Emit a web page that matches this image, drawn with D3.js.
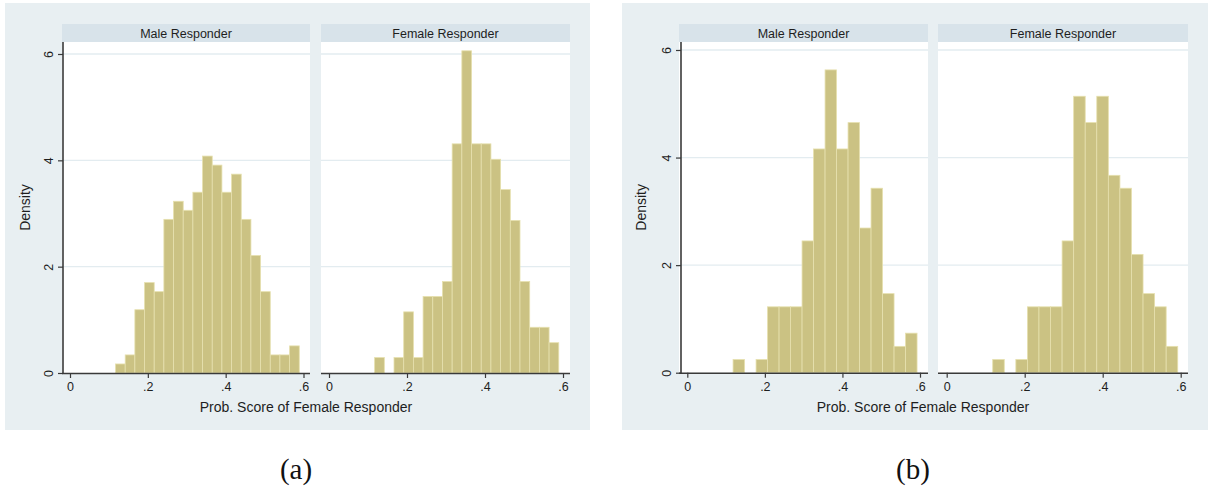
<!DOCTYPE html>
<html>
<head>
<meta charset="utf-8">
<script src="https://cdn.jsdelivr.net/npm/d3@7"></script>
<style>
  html, body { margin: 0; padding: 0; background: #ffffff; }
  svg { display: block; }
</style>
</head>
<body>
<svg id="chart" width="1212" height="496"></svg>
<script>
// ---------------- DATA ----------------
const facets = ["Male Responder", "Female Responder"];
const xTicks = [0, 0.2, 0.4, 0.6];
const xTickLabels = ["0", ".2", ".4", ".6"];
const yTicks = [0, 2, 4, 6];
const yTickLabels = ["0", "2", "4", "6"];
const xTitle = "Prob. Score of Female Responder";
const yTitle = "Density";
const captions = ["(a)", "(b)"];

// Panel (a): 19 bins
const binStartA = 0.1170;
const binWidthA = 0.02485;
const maleDensityA   = [0.17, 0.34, 1.19, 1.70, 1.53, 2.89, 3.23, 3.06, 3.40, 4.08, 3.91, 3.40, 3.74, 2.89, 2.21, 1.53, 0.34, 0.34, 0.51];
const femaleDensityA = [0.29, 0, 0.29, 1.15, 0.29, 1.44, 1.44, 1.72, 4.31, 6.06, 4.31, 4.31, 4.02, 3.45, 2.87, 1.72, 0.86, 0.86, 0.57];

// Panel (b): 16 bins
const binStartB = 0.1180;
const binWidthB = 0.02965;
const maleDensityB   = [0.245, 0, 0.245, 1.225, 1.225, 1.225, 2.45, 4.16, 5.63, 4.16, 4.65, 2.69, 3.43, 1.47, 0.49, 0.735];
const femaleDensityB = [0.245, 0, 0.245, 1.225, 1.225, 1.225, 2.45, 5.14, 4.65, 5.14, 3.67, 3.43, 2.20, 1.47, 1.225, 0.49];

// ---------------- LAYOUT / STYLE ----------------
const COL = {
  region: "#e8eff2",
  strip: "#d8e3ea",
  grid: "#e3ecf0",
  bar: "#cbc283",
  barStroke: "#e6e0ae",
  axis: "#3a3a3a",
  text: "#1e1e1e"
};
const FONT = "'Liberation Sans', Arial, sans-serif";

const panels = [
  {
    bg: [5, 3, 590, 430],
    y0: 373, y6: 54, plotTop: 42, stripTop: 24,
    facetsPos: [
      { left: 62, right: 310, x0: 70, x6: 303.5 },
      { left: 321, right: 570, x0: 329, x6: 563 }
    ],
    yAxisX: 63, yLabelX: 49, yTitleX: 30, xTitleX: 306, xTitleY: 412,
    binStart: binStartA, binWidth: binWidthA,
    data: [maleDensityA, femaleDensityA],
    caption: captions[0], captionX: 296
  },
  {
    bg: [622, 3, 1208, 430],
    y0: 372.7, y6: 50, plotTop: 42, stripTop: 24,
    facetsPos: [
      { left: 679, right: 928, x0: 687.3, x6: 920 },
      { left: 938, right: 1188, x0: 946.7, x6: 1180.7 }
    ],
    yAxisX: 681, yLabelX: 667, yTitleX: 646, xTitleX: 923, xTitleY: 412,
    binStart: binStartB, binWidth: binWidthB,
    data: [maleDensityB, femaleDensityB],
    caption: captions[1], captionX: 913
  }
];

const svg = d3.select("#chart");

panels.forEach(p => {
  const g = svg.append("g");
  g.append("rect")
    .attr("x", p.bg[0]).attr("y", p.bg[1])
    .attr("width", p.bg[2] - p.bg[0]).attr("height", p.bg[3] - p.bg[1])
    .attr("fill", COL.region);

  const y = d3.scaleLinear().domain([0, 6]).range([p.y0, p.y6]);

  p.facetsPos.forEach((f, i) => {
    const x = d3.scaleLinear().domain([0, 0.6]).range([f.x0, f.x6]);
    const fg = g.append("g");

    // strip
    fg.append("rect")
      .attr("x", f.left).attr("y", p.stripTop)
      .attr("width", f.right - f.left).attr("height", p.plotTop - p.stripTop)
      .attr("fill", COL.strip);
    fg.append("text")
      .attr("x", (f.left + f.right) / 2).attr("y", (p.stripTop + p.plotTop) / 2 + 4.5)
      .attr("text-anchor", "middle")
      .attr("font-family", FONT).attr("font-size", 12.5)
      .attr("fill", COL.text)
      .text(facets[i]);

    // plot area
    fg.append("rect")
      .attr("x", f.left).attr("y", p.plotTop)
      .attr("width", f.right - f.left).attr("height", y(0) - p.plotTop)
      .attr("fill", "#ffffff");

    // gridlines
    fg.selectAll("line.grid")
      .data(yTicks.filter(t => t > 0))
      .join("line")
      .attr("class", "grid")
      .attr("x1", f.left).attr("x2", f.right)
      .attr("y1", d => y(d)).attr("y2", d => y(d))
      .attr("stroke", COL.grid).attr("stroke-width", 1.3);

    // bars
    const bins = p.data[i].map((v, k) => ({
      x0: p.binStart + k * p.binWidth,
      x1: p.binStart + (k + 1) * p.binWidth,
      v: v
    })).filter(b => b.v > 0);
    fg.selectAll("rect.bar")
      .data(bins)
      .join("rect")
      .attr("class", "bar")
      .attr("x", d => x(d.x0))
      .attr("width", d => x(d.x1) - x(d.x0))
      .attr("y", d => y(d.v))
      .attr("height", d => y(0) - y(d.v))
      .attr("fill", COL.bar)
      .attr("stroke", COL.barStroke)
      .attr("stroke-width", 0.8);

    // x axis
    const xAxis = d3.axisBottom(x)
      .tickValues(xTicks)
      .tickFormat((d, k) => xTickLabels[k])
      .tickSize(5).tickPadding(4);
    const xg = fg.append("g")
      .attr("transform", `translate(0,${y(0)})`)
      .call(xAxis);
    xg.select(".domain").remove();
    xg.append("line")
      .attr("x1", f.left).attr("x2", f.right)
      .attr("y1", 0.5).attr("y2", 0.5)
      .attr("stroke", COL.axis).attr("stroke-width", 1.6);
    xg.selectAll(".tick line").attr("stroke", COL.axis).attr("stroke-width", 1.2);
    xg.selectAll(".tick text")
      .attr("font-family", FONT).attr("font-size", 12.5)
      .attr("fill", COL.text);

    // y axis on left facet only
    if (i === 0) {
      const yAxis = d3.axisLeft(y)
        .tickValues(yTicks)
        .tickFormat((d, k) => yTickLabels[k])
        .tickSize(5).tickPadding(0);
      const yg = fg.append("g")
        .attr("transform", `translate(${p.yAxisX},0)`)
        .call(yAxis);
      yg.select(".domain").remove();
      yg.append("line")
        .attr("x1", 0).attr("x2", 0)
        .attr("y1", p.plotTop).attr("y2", y(0) + 1)
        .attr("stroke", COL.axis).attr("stroke-width", 1.6);
      yg.selectAll(".tick line").attr("stroke", COL.axis).attr("stroke-width", 1.2);
      yg.selectAll(".tick text")
        .attr("font-family", FONT).attr("font-size", 12.5)
        .attr("fill", COL.text)
        .attr("x", null).attr("dy", null)
        .attr("text-anchor", "middle")
        .attr("transform", `translate(${p.yLabelX - p.yAxisX},0) rotate(-90)`)
        .attr("dy", "0.35em");
    }
  });

  // axis titles
  g.append("text")
    .attr("x", p.xTitleX).attr("y", p.xTitleY)
    .attr("text-anchor", "middle")
    .attr("font-family", FONT).attr("font-size", 14)
    .attr("fill", COL.text)
    .text(xTitle);
  g.append("text")
    .attr("transform", `translate(${p.yTitleX},${(p.plotTop + y(0)) / 2}) rotate(-90)`)
    .attr("text-anchor", "middle")
    .attr("font-family", FONT).attr("font-size", 14)
    .attr("fill", COL.text)
    .text(yTitle);

  // caption
  svg.append("text")
    .attr("x", p.captionX).attr("y", 479)
    .attr("text-anchor", "middle")
    .attr("font-family", "'Liberation Serif', 'DejaVu Serif', serif")
    .attr("font-size", 29)
    .attr("fill", "#111")
    .text(p.caption);
});
</script>
</body>
</html>
